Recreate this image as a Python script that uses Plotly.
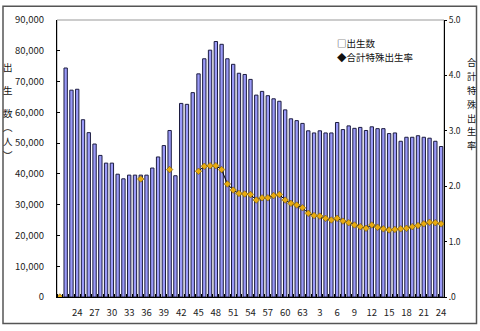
import plotly.graph_objects as go

# Western calendar years, 1946 (Showa 21) through 2012 (Heisei 24)
years = list(range(1946, 2013))

# Number of births per year (None = no figure)
births = [
    None, 74400, 67200, 67500, 57600, 53400, 49700, 46000, 43500, 43500,
    39900, 38400, 39600, 39600, 39600, 39600, 41900, 45500, 49200, 54100,
    39400, 62900, 62600, 66400, 72500, 77400, 80200, 83000, 82100, 77400,
    75600, 72700, 72300, 70700, 65600, 66800, 65400, 64400, 63600, 60800,
    57900, 57300, 56400, 54000, 53300, 54000, 53300, 53300, 56700, 54400,
    55600, 54800, 55100, 54100, 55300, 54700, 54700, 53100, 53300, 50600,
    51900, 51900, 52400, 51900, 51600, 50600, 48900,
]

# Total fertility rate (None = not available)
rates = [
    0.0, None, None, None, None, None, None, None, None, None,
    None, None, None, None, 2.13, None, None, None, None, 2.30,
    None, None, None, None, 2.27, 2.36, 2.37, 2.37, 2.30, 2.04,
    1.93, 1.87, 1.86, 1.85, 1.75, 1.79, 1.79, 1.83, 1.85, 1.75,
    1.69, 1.66, 1.61, 1.51, 1.47, 1.46, 1.42, 1.39, 1.42, 1.37,
    1.34, 1.30, 1.27, 1.24, 1.30, 1.26, 1.23, 1.21, 1.22, 1.23,
    1.24, 1.27, 1.29, 1.32, 1.35, 1.34, 1.32,
]

# Era-year labels shown every three years
x_tick_years = list(range(1949, 2013, 3))
x_tick_labels = ["24", "27", "30", "33", "36", "39", "42", "45", "48", "51",
                 "54", "57", "60", "63", "3", "6", "9", "12", "15", "18",
                 "21", "24"]

left_ticks = list(range(0, 90001, 10000))
right_ticks = [0, 1, 2, 3, 4, 5]
right_tick_labels = [".0", "1.0", "2.0", "3.0", "4.0", "5.0"]

# axis titles, written top to bottom one character at a time
left_title = ["出", "生", "数", "︵", "人", "︶"]
right_title = ["合", "計", "特", "殊", "出", "生", "率"]

# legend entries
legend_items = ["□出生数", "◆合計特殊出生率"]

W, H = 480, 331
L, R, T, B = 57, 444, 18, 299
FONT = "Noto Sans CJK JP, Noto Sans, sans-serif"


def px_x(x):
    return (x - L) / (R - L)


def px_y(y):
    return (B - y) / (B - T)


fig = go.Figure()

fig.add_bar(
    x=years, y=births, yaxis="y",
    marker=dict(color="#9a9af8", line=dict(color="#1c1c40", width=1)),
)

fig.add_scatter(
    x=years, y=rates, yaxis="y2", mode="lines+markers", connectgaps=False,
    line=dict(color="#000000", width=1),
    marker=dict(symbol="diamond", size=5, color="#e8aa10",
                line=dict(color="#7a5a00", width=0.6)),
)


def char_label(ch, x, y, size):
    return dict(text=ch, x=px_x(x), y=px_y(y), xref="paper", yref="paper",
                showarrow=False, xanchor="center", yanchor="middle", borderpad=0,
                font=dict(family=FONT, size=size, color="#111"))


annotations = []
for ch, y in zip(left_title, [66, 89, 112, 127, 141, 155]):
    annotations.append(char_label(ch, 8, y, 9.5))
for k, ch in enumerate(right_title):
    annotations.append(char_label(ch, 471.5, 61 + 14 * k, 9.2))

for text, y in zip(legend_items, [41, 55.5]):
    annotations.append(dict(text=text, x=px_x(336), y=px_y(y), xref="paper", yref="paper",
                            showarrow=False, xanchor="left", yanchor="middle", borderpad=0,
                            font=dict(family=FONT, size=9.5, color="#111")))

shapes = [
    # chart frame
    dict(type="rect", xref="paper", yref="paper",
         x0=px_x(3), x1=px_x(476.5), y0=px_y(326), y1=px_y(4),
         line=dict(color="#555555", width=1.5), layer="below"),
    # plot area frame
    dict(type="rect", xref="paper", yref="paper",
         x0=0, x1=1, y0=0, y1=1, line=dict(color="#999999", width=1), layer="below"),
]

tickfont = dict(family=FONT, size=9.5, color="#222")
rtickfont = dict(family=FONT, size=8.5, color="#222")

fig.update_layout(
    width=W, height=H, autosize=False,
    margin=dict(l=L, r=W - R, t=T, b=H - B, pad=0),
    paper_bgcolor="white", plot_bgcolor="white",
    showlegend=False, bargap=0.42,
    annotations=annotations, shapes=shapes,
    xaxis=dict(range=[1945.5, 2012.5], tickvals=x_tick_years, ticktext=x_tick_labels,
               showline=True, linecolor="black", linewidth=1, showgrid=False, zeroline=False,
               ticks="", tickfont=tickfont, ticklabelstandoff=7,
               minor=dict(ticks="inside", ticklen=3, tick0=1945.5, dtick=1,
                          tickcolor="black", showgrid=False)),
    yaxis=dict(range=[0, 90000], tickvals=left_ticks, tickformat=",",
               showline=True, linecolor="black", linewidth=1, showgrid=False, zeroline=False,
               ticks="inside", ticklen=3, tickcolor="black", tickfont=tickfont,
               ticklabelstandoff=10),
    yaxis2=dict(range=[0, 5], tickvals=right_ticks, ticktext=right_tick_labels,
                overlaying="y", side="right",
                showline=True, linecolor="black", linewidth=1, showgrid=False, zeroline=False,
                ticks="outside", ticklen=2, tickcolor="black", tickfont=rtickfont,
                ticklabelstandoff=0),
)

fig.write_html("out.html")
